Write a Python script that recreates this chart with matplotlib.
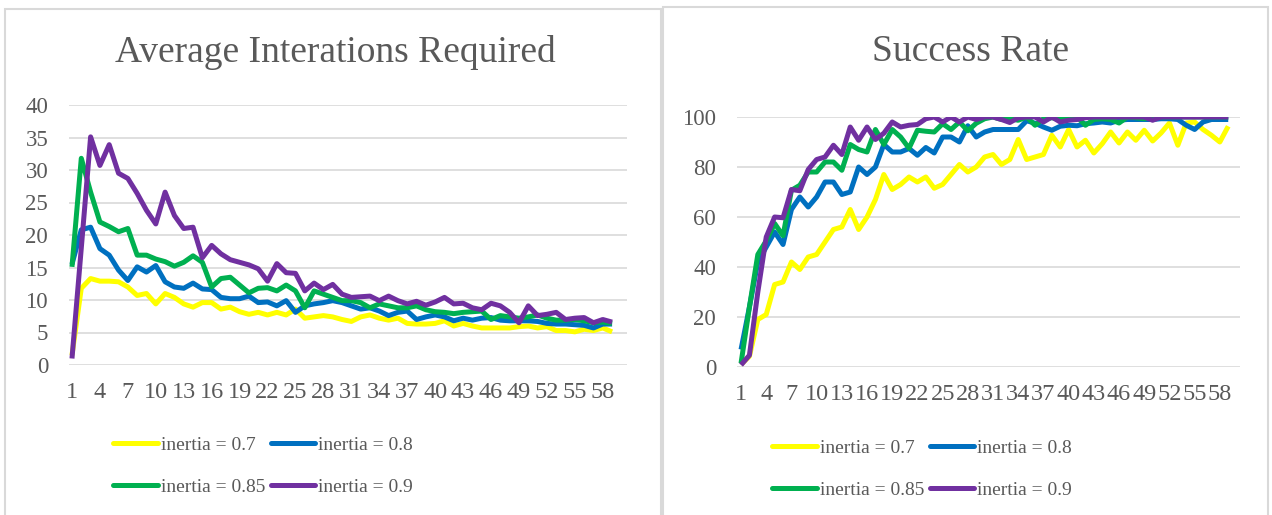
import matplotlib

matplotlib.use("Agg")
import matplotlib.pyplot as plt
from matplotlib.patches import Rectangle

plt.rcParams["font.family"] = ["Liberation Serif", "DejaVu Serif"]

TEXT_COLOR = "#595959"
GRID_COLOR = "#D9D9D9"
BORDER_COLOR = "#D9D9D9"
SERIES_COLORS = ["#FFFF00", "#0070C0", "#00B050", "#7030A0"]
SERIES_LABELS = ["inertia = 0.7", "inertia = 0.8", "inertia = 0.85", "inertia = 0.9"]
LINE_W = 3.6

# run index 1..59
runs = list(range(1, 60))
x_ticks = list(range(1, 59, 3))

iters_07 = [1.5, 11.8, 13.3, 12.9, 12.9, 12.8, 12.0, 10.7, 11.0, 9.4,
            11.0, 10.4, 9.4, 8.9, 9.6, 9.6, 8.6, 8.9, 8.2, 7.8,
            8.1, 7.7, 8.1, 7.7, 8.6, 7.2, 7.4, 7.6, 7.4, 7.0,
            6.7, 7.4, 7.7, 7.2, 6.9, 7.2, 6.4, 6.3, 6.3, 6.4,
            6.8, 6.0, 6.4, 6.0, 5.7, 5.7, 5.7, 5.7, 5.9, 6.0,
            5.7, 5.9, 5.3, 5.3, 5.1, 5.5, 5.3, 5.7, 5.1]
iters_08 = [15.5, 20.8, 21.2, 17.9, 16.9, 14.6, 13.0, 15.1, 14.3, 15.3,
            12.8, 12.0, 11.8, 12.6, 11.7, 11.6, 10.4, 10.2, 10.2, 10.6,
            9.6, 9.7, 9.1, 9.9, 8.1, 9.1, 9.4, 9.6, 9.9, 9.6,
            9.1, 8.6, 8.8, 8.3, 7.6, 8.1, 8.3, 7.0, 7.4, 7.7,
            7.4, 6.8, 7.2, 6.9, 7.2, 7.3, 6.9, 6.8, 6.8, 6.8,
            6.7, 6.4, 6.3, 6.3, 6.2, 6.1, 5.7, 6.3, 6.3]
iters_085 = [15.1, 31.8, 26.6, 22.0, 21.3, 20.5, 21.0, 16.9, 16.9, 16.3,
             15.9, 15.2, 15.8, 16.8, 15.8, 12.0, 13.3, 13.5, 12.3, 11.1,
             11.8, 11.9, 11.4, 12.3, 11.4, 8.8, 11.4, 10.9, 10.4, 9.9,
             9.9, 9.6, 8.8, 9.4, 9.1, 8.8, 8.8, 9.1, 8.5, 8.2,
             8.1, 7.9, 8.1, 8.2, 8.3, 7.0, 7.6, 7.4, 7.2, 7.4,
             7.7, 7.2, 6.9, 6.9, 7.0, 6.8, 6.5, 6.6, 6.4]
iters_09 = [1.0, 18.0, 35.1, 30.7, 33.9, 29.5, 28.7, 26.4, 23.8, 21.7,
            26.6, 23.0, 21.0, 21.2, 16.5, 18.4, 17.1, 16.2, 15.8, 15.4,
            14.8, 12.9, 15.6, 14.2, 14.1, 11.4, 12.6, 11.6, 12.4, 10.9,
            10.4, 10.5, 10.6, 9.9, 10.6, 9.9, 9.4, 9.8, 9.2, 9.7,
            10.4, 9.4, 9.5, 8.8, 8.5, 9.5, 9.1, 8.1, 6.5, 9.1,
            7.6, 7.8, 8.1, 7.0, 7.2, 7.3, 6.5, 7.0, 6.6]

success_07 = [1, 4.3, 19, 21, 33, 34, 42, 39, 44, 45,
              50, 55, 56, 63, 55, 60, 67, 77, 71, 73,
              76, 74, 76, 71.5, 73, 77, 81, 78, 80, 84,
              85, 81, 83, 91, 83, 84, 85, 92.7, 88, 95,
              88, 90.7, 85.6, 89.3, 94, 89.6, 94, 90.7, 94.7, 90.4,
              93.6, 97.6, 88.7, 97.6, 98, 95, 92.7, 90, 96.3]
success_08 = [7, 24, 42, 48, 54, 49, 63, 68, 64, 68,
              74, 74, 69, 70, 80, 77, 80, 89, 86, 86,
              87.4, 84.7, 87.8, 85.6, 92, 92, 90, 96.5, 92, 94,
              95, 95, 95, 95, 98.5, 97.5, 96, 94.7, 96.3, 96.7,
              96.5, 97.3, 97.6, 98, 97.6, 98.7, 99, 99, 99, 99,
              99.3, 99.3, 99, 96.7, 95, 98, 99, 99, 99]
success_085 = [1.5, 24, 45, 50.5, 57.4, 52.5, 70.7, 72.7, 78, 78,
               82, 82, 78.7, 89, 87, 86, 95, 89, 95, 92,
               87.5, 94.7, 94.3, 94, 97.3, 95, 98, 94.5, 97.5, 99.3,
               100, 99, 99.3, 98.7, 100, 96.7, 99.3, 99.7, 99.3, 99.3,
               100, 96.7, 99, 99.3, 99, 97.6, 100, 99.7, 99.3, 100,
               100, 100, 100, 100, 100, 100, 100, 100, 100]
success_09 = [0.8, 4.7, 30, 52, 60, 59.7, 71, 70.5, 79, 83,
              84, 88.7, 85, 96, 90.7, 96, 91, 93.5, 98, 96,
              96.7, 97, 99.3, 100, 98, 100, 98, 100, 99, 100,
              100, 99, 97.8, 99.7, 100, 100, 98, 100, 98, 98.7,
              99, 99.7, 100, 100, 100, 100, 100, 100, 100, 98.7,
              100, 100, 100, 100, 100, 100, 100, 100, 100]

W, H = 1272, 515
fig = plt.figure(figsize=(W / 100, H / 100), dpi=100)


def px_box(x0, y_top, x1, y_bottom):
    """Pixel rectangle -> figure-fraction [left, bottom, width, height]."""
    return [x0 / W, 1 - y_bottom / H, (x1 - x0) / W, (y_bottom - y_top) / H]


def draw_panel(rect, series, yticks, xlim, title, title_xy, legend_xy):
    ax = fig.add_axes(rect)
    lines = []
    for vals, color, label in zip(series, SERIES_COLORS, SERIES_LABELS):
        ln, = ax.plot(runs, vals, color=color, lw=LINE_W, label=label,
                      solid_joinstyle="round", solid_capstyle="butt")
        lines.append(ln)
    ax.set_xlim(*xlim)
    ax.set_ylim(yticks[0], yticks[-1])
    ax.set_yticks(yticks)
    ax.set_xticks(x_ticks)
    ax.grid(axis="y", color=GRID_COLOR, lw=1.2)
    ax.set_axisbelow(True)
    for side in ("top", "right", "left", "bottom"):
        ax.spines[side].set_visible(False)
    ax.tick_params(length=0, colors=TEXT_COLOR)
    ax.tick_params(axis="y", pad=15, labelsize=16.5)
    ax.tick_params(axis="x", pad=12, labelsize=17.5)

    fig.text(title_xy[0] / W, 1 - title_xy[1] / H, title, ha="center", va="center",
             fontsize=27, color=TEXT_COLOR)

    # legend fills column-first, so interleave to read row-wise
    order = [0, 2, 1, 3]
    leg = ax.legend([lines[i] for i in order], [SERIES_LABELS[i] for i in order],
                    loc="center", bbox_to_anchor=(legend_xy[0] / W, 1 - legend_xy[1] / H),
                    bbox_transform=fig.transFigure, ncol=2, frameon=False,
                    fontsize=14, handlelength=2.3, handletextpad=0.15,
                    columnspacing=0.3, labelspacing=1.25, labelcolor=TEXT_COLOR)
    for line in leg.get_lines():
        line.set_solid_capstyle("round")
        line.set_linewidth(LINE_W)
    return ax


draw_panel(px_box(69, 105, 627, 365),
           [iters_07, iters_08, iters_085, iters_09],
           [0, 5, 10, 15, 20, 25, 30, 35, 40],
           (0.68, 60.6), "Average Interations Required", (335, 52), (263, 466))

draw_panel(px_box(737, 117, 1240, 367),
           [success_07, success_08, success_085, success_09],
           [0, 20, 40, 60, 80, 100],
           (0.52, 60.4), "Success Rate", (970, 52), (922, 469))

# chart-area frames
for x0, y0, x1 in [(5, 9, 661), (663, 7, 1268)]:
    fig.patches.append(Rectangle((x0 / W, -0.02), (x1 - x0) / W, 1.02 - y0 / H,
                                 transform=fig.transFigure, fill=False,
                                 edgecolor=BORDER_COLOR, lw=1.5))

fig.savefig("out.png", dpi=100)
